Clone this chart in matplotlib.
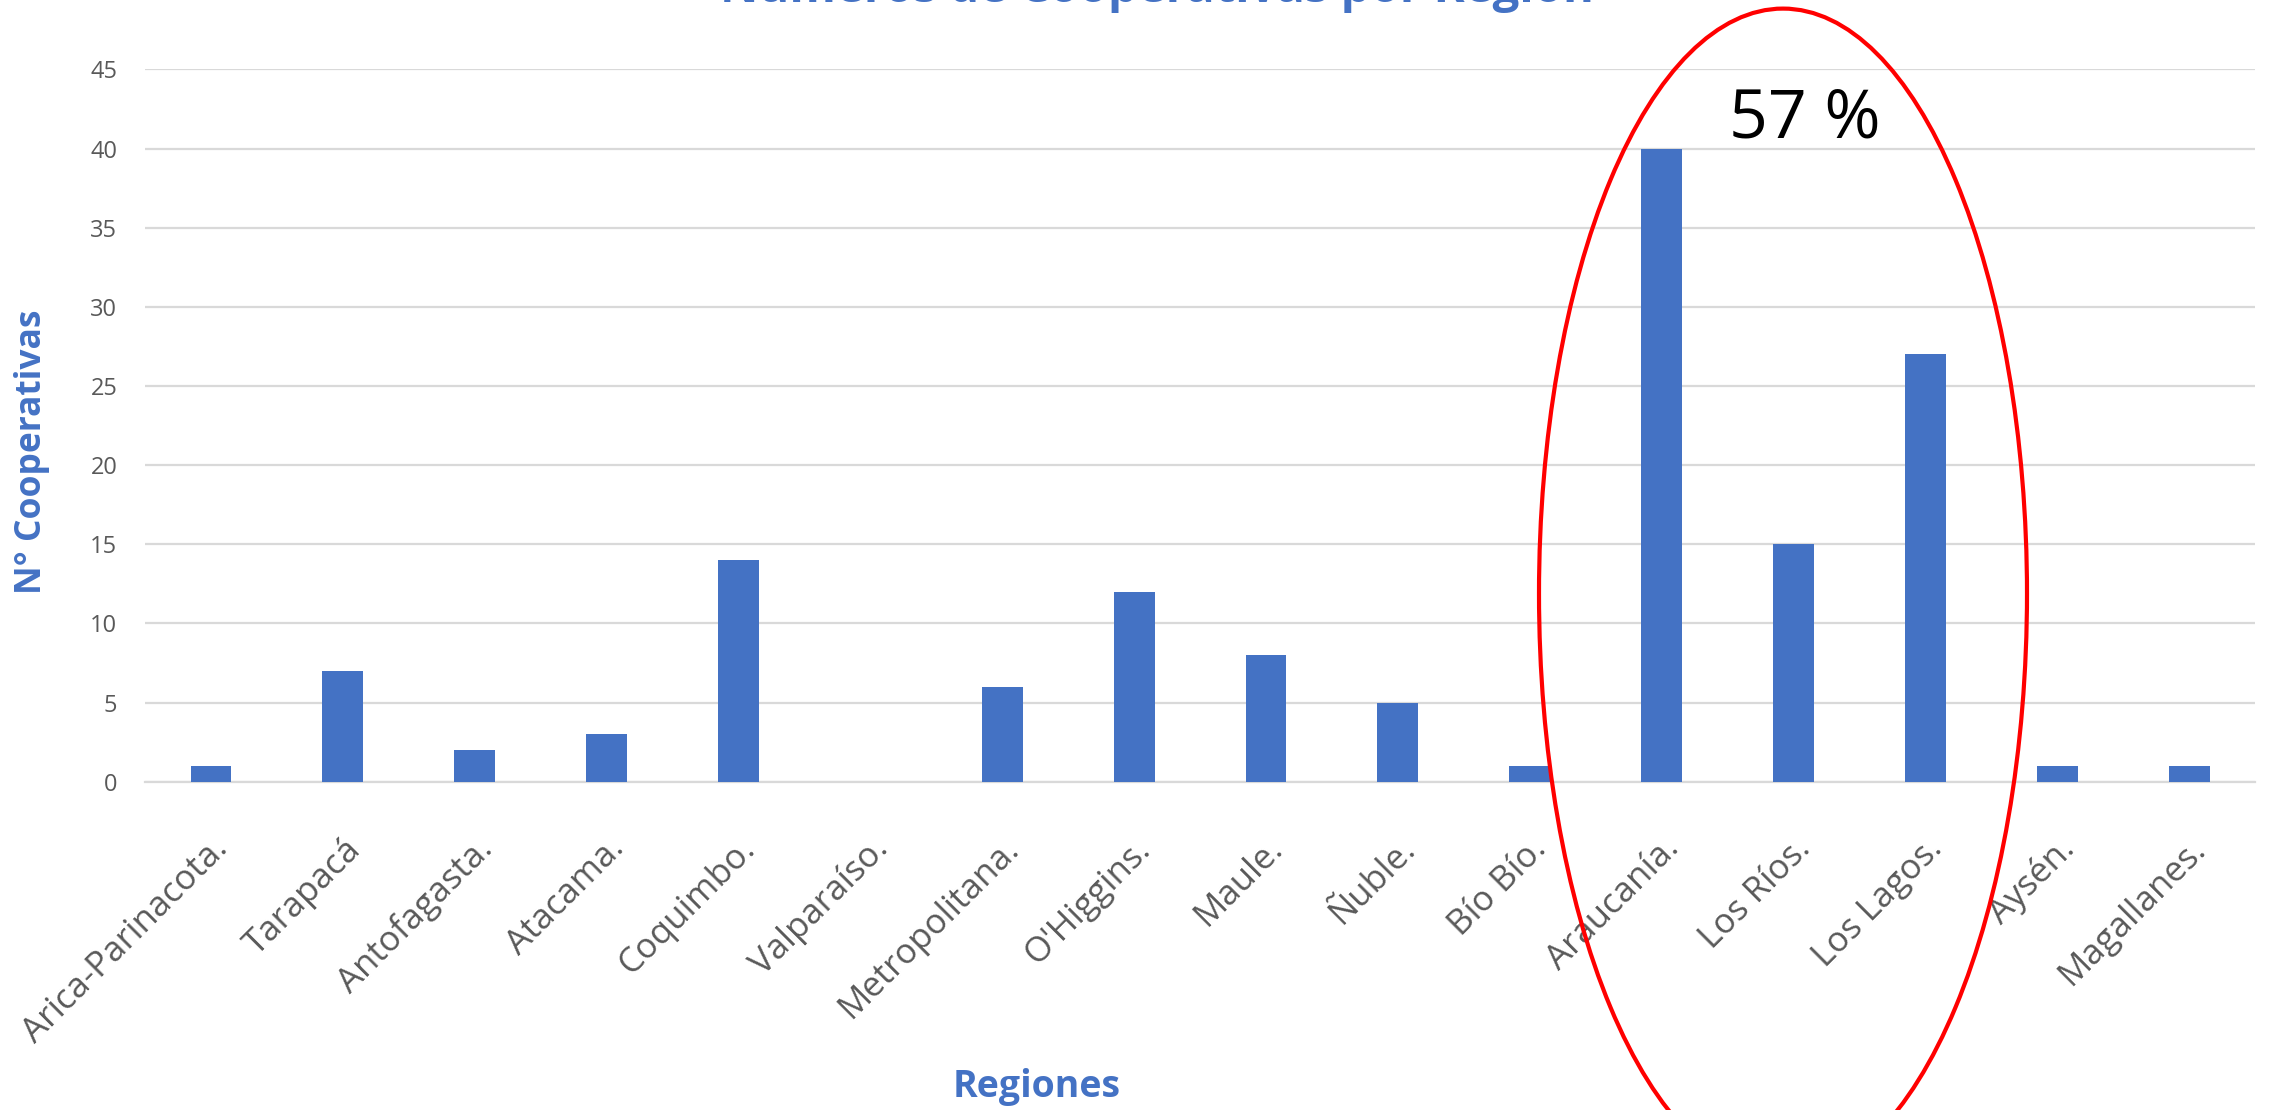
import matplotlib.pyplot as plt
from matplotlib.patches import Ellipse

regiones = ["Arica-Parinacota.", "Tarapacá", "Antofagasta.", "Atacama.", "Coquimbo.",
            "Valparaíso.", "Metropolitana.", "O'Higgins.", "Maule.", "Ñuble.", "Bío Bío.",
            "Araucanía.", "Los Ríos.", "Los Lagos.", "Aysén.", "Magallanes."]
cooperativas = [1, 7, 2, 3, 14, 0, 6, 12, 8, 5, 1, 40, 15, 27, 1, 1]
yticks = [0, 5, 10, 15, 20, 25, 30, 35, 40, 45]

azul = "#4472C4"
gris = "#595959"
bold_font = ["Liberation Sans Narrow", "Open Sans", "DejaVu Sans"]

fig = plt.figure(figsize=(22.7, 11.1), dpi=100)
ax = fig.add_axes([0.0639, 0.2958, 0.9295, 0.6416])

x = range(len(regiones))
ax.bar(x, cooperativas, width=0.31, color=azul, zorder=3)

ax.set_xlim(-0.5, len(regiones) - 0.5)
ax.set_ylim(0, 45)
ax.set_yticks(yticks)
ax.set_yticklabels([str(v) for v in yticks], fontsize=17, color=gris, family="Open Sans")
ax.set_xticks(list(x))
ax.set_xticklabels(regiones, rotation=45, ha="right", rotation_mode="anchor",
                   fontsize=25, color=gris, family="Open Sans")
ax.tick_params(axis="both", length=0)
ax.tick_params(axis="x", pad=36)
ax.tick_params(axis="y", pad=20)
ax.grid(axis="y", color="#D9D9D9", linewidth=1.6, zorder=0)
for s in ["top", "right", "left"]:
    ax.spines[s].set_visible(False)
ax.spines["bottom"].set_color("#D9D9D9")
ax.spines["bottom"].set_linewidth(1.6)

# titles placed in figure coordinates
fig.text(1157 / 2270, 1 - 2 / 1110, "Números de Cooperativas por Región", ha="center",
         va="baseline", fontsize=34, fontweight="bold", color=azul, family=bold_font)
fig.text(32 / 2270, 1 - 452 / 1110, "N° Cooperativas", ha="center", va="center",
         rotation=90, fontsize=25.5, fontweight="bold", color=azul, family=bold_font)
fig.text(1037 / 2270, 1 - 1097 / 1110, "Regiones", ha="center", va="baseline",
         fontsize=27, fontweight="bold", color=azul, family=bold_font)

# highlight of the southern regions
fig.patches.append(Ellipse((1783 / 2270, 1 - 593.6 / 1110), 488 / 2270, 1170 / 1110,
                           transform=fig.transFigure, fill=False, edgecolor="red",
                           linewidth=3, zorder=5))
fig.text(1805 / 2270, 1 - 137 / 1110, "57 %", ha="center", va="baseline",
         fontsize=49, color="black", family=["Open Sans", "DejaVu Sans"])

fig.savefig("out.png", dpi=100)
